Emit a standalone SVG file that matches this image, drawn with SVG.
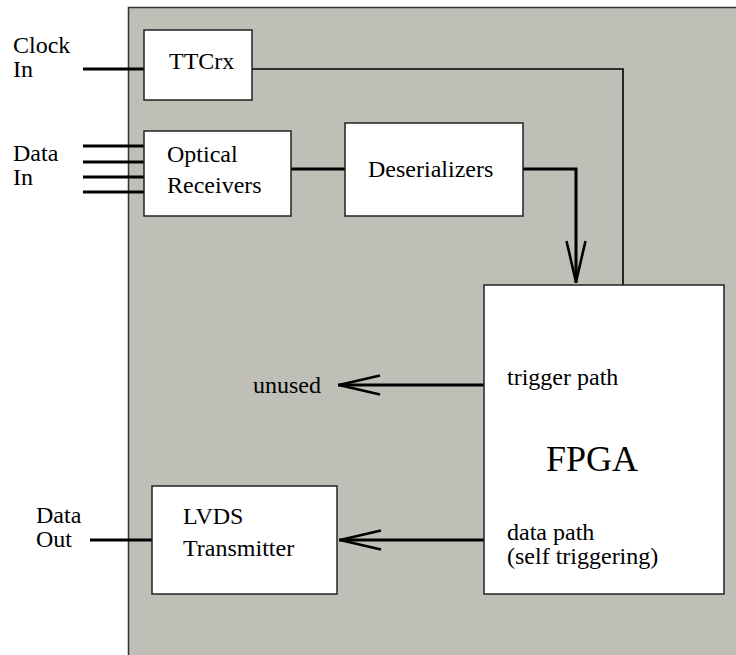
<svg xmlns="http://www.w3.org/2000/svg" width="736" height="655" viewBox="0 0 736 655">
<defs>
<style>
.node{fill:#ffffff;stroke:#222222;stroke-width:1.5}
text{font-family:'Liberation Serif','Times New Roman','DejaVu Serif',serif;font-size:24px;fill:#000}
.thick{stroke:#000;stroke-width:3;fill:none}
.thin{stroke:#000;stroke-width:1.6;fill:none}
</style>
<marker id="vee" viewBox="0 0 42 20" refX="42" refY="10" markerWidth="42" markerHeight="20" markerUnits="userSpaceOnUse" orient="auto" overflow="visible">
<path d="M0,0.5 L41,10 L0,19.5" fill="none" stroke="#000" stroke-width="2.6"/>
</marker>
</defs>
<rect width="736" height="655" fill="#ffffff"/>
<rect id="board" x="128.5" y="7.5" width="620" height="660" fill="#bfbfb7" stroke="#333333" stroke-width="1.5"/>
<g id="connectors">
<line class="thick" x1="83" y1="69" x2="144" y2="69"/>
<line class="thick" x1="83" y1="146" x2="144" y2="146"/>
<line class="thick" x1="83" y1="162" x2="144" y2="162"/>
<line class="thick" x1="83" y1="177" x2="144" y2="177"/>
<line class="thick" x1="83" y1="192" x2="144" y2="192"/>
<polyline class="thin" points="252,69 623,69 623,285"/>
<line class="thick" x1="291" y1="169" x2="345" y2="169"/>
<polyline class="thick" points="523,169 576,169 576,283" marker-end="url(#vee)"/>
<line class="thick" x1="484" y1="385" x2="338" y2="385" marker-end="url(#vee)"/>
<line class="thick" x1="484" y1="540" x2="339" y2="540" marker-end="url(#vee)"/>
<line class="thick" x1="90" y1="540" x2="152" y2="540"/>
</g>
<g id="labels">
<text x="13" y="53">Clock</text>
<text x="13" y="77">In</text>
<text x="13" y="161">Data</text>
<text x="13" y="185">In</text>
<text x="36" y="523">Data</text>
<text x="36" y="547">Out</text>
<text x="253" y="393">unused</text>
</g>
<g id="ttcrx">
<rect class="node" x="144" y="30" width="108" height="70"/>
<text x="169" y="69">TTCrx</text>
</g>
<g id="optical">
<rect class="node" x="144" y="131" width="147" height="85"/>
<text x="167" y="162">Optical</text>
<text x="167" y="193">Receivers</text>
</g>
<g id="deserializers">
<rect class="node" x="345" y="123" width="178" height="93"/>
<text x="368" y="177">Deserializers</text>
</g>
<g id="fpga">
<rect class="node" x="484" y="285" width="240" height="309"/>
<text x="507" y="385">trigger path</text>
<text x="546" y="471" style="font-size:36px">FPGA</text>
<text x="507" y="540">data path</text>
<text x="507" y="564">(self triggering)</text>
</g>
<g id="lvds">
<rect class="node" x="152" y="486" width="185" height="108"/>
<text x="183" y="524">LVDS</text>
<text x="183" y="556">Transmitter</text>
</g>
</svg>
